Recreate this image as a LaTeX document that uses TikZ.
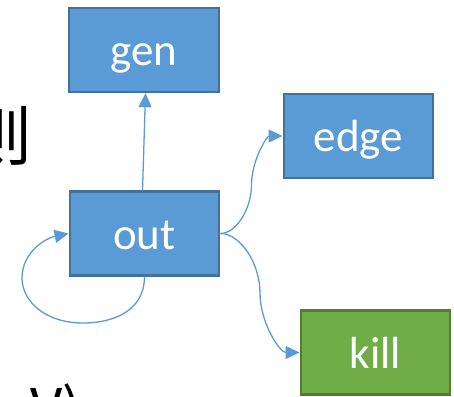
\documentclass[tikz,border=0pt]{standalone}
\usepackage{fontspec}
\setmainfont{Carlito}
\newfontfamily\cjkfont{Noto Sans CJK SC}
\usetikzlibrary{arrows.meta,calc}

\definecolor{boxblue}{HTML}{5B9BD5}
\definecolor{boxblueline}{HTML}{41719C}
\definecolor{boxgreen}{HTML}{70AD47}
\definecolor{boxgreenline}{HTML}{507E32}

\tikzset{
  block/.style={rectangle, draw=boxblueline, fill=boxblue, line width=2.4pt,
    text=white, font=\fontsize{45}{54}\selectfont,
    text height=33pt, text depth=2pt, inner sep=0pt,
    minimum width=149.5pt, minimum height=84pt},
  greenblock/.style={block, draw=boxgreenline, fill=boxgreen},
  link/.style={draw=boxblue, line width=1.3pt,
    -{Triangle[length=14pt,width=13pt]}},
  bodytext/.style={inner sep=0pt, anchor=base west, text=black}
}

\begin{document}
\begin{tikzpicture}[x=1pt,y=-1pt]
  \useasboundingbox (0,0) rectangle (454,396);
  \clip (0,0) rectangle (454,396);

  % surrounding slide text, cut off at the edges
  \node[bodytext, font=\cjkfont\fontsize{65}{70}\selectfont] (ze) at (-33,160) {则};
  \node[bodytext, font=\cjkfont\fontsize{56}{60}\selectfont] (vb) at (30,429) {V)};

  % boxes
  \node[block] (gen)  at (144,50)      {gen};
  \node[block] (edge) at (358.5,136)   {edge};
  \node[block] (out)  at (144.5,233.5) {out};
  \node[greenblock] (kill) at (375.5,352.5) {kill};

  % out -> gen
  \draw[link] ([xshift=-2pt]out.north) -- ([xshift=1.5pt]gen.south);

  % out -> edge, curved elbow connector
  \coordinate (oe1) at ($(out.east)!0.25!(edge.west)$);
  \coordinate (oe2) at ($(out.east)!0.5!(edge.west)$);
  \coordinate (oe3) at ($(out.east)!0.75!(edge.west)$);
  \draw[link] (out.east) .. controls (oe1 |- out.east) and (oe2 |- oe1) .. (oe2)
    .. controls (oe2 |- oe3) and (oe3 |- edge.west) .. (edge.west);

  % out -> kill, curved elbow connector
  \coordinate (ok1) at ($(out.east)!0.25!(kill.west)$);
  \coordinate (ok2) at ($(out.east)!0.5!(kill.west)$);
  \coordinate (ok3) at ($(out.east)!0.75!(kill.west)$);
  \draw[link] (out.east) .. controls (ok1 |- out.east) and (ok2 |- ok1) .. (ok2)
    .. controls (ok2 |- ok3) and (ok3 |- kill.west) .. (kill.west);

  % self loop on out
  \coordinate (lb) at (83,323);
  \coordinate (ll) at (22,278);
  \draw[link] (out.south) .. controls +(0,33) and +(32,0) .. (lb)
    .. controls +(-38,0) and +(0,23) .. (ll)
    .. controls +(0,-25) and +(-24,5) .. (out.west);
\end{tikzpicture}
\end{document}
